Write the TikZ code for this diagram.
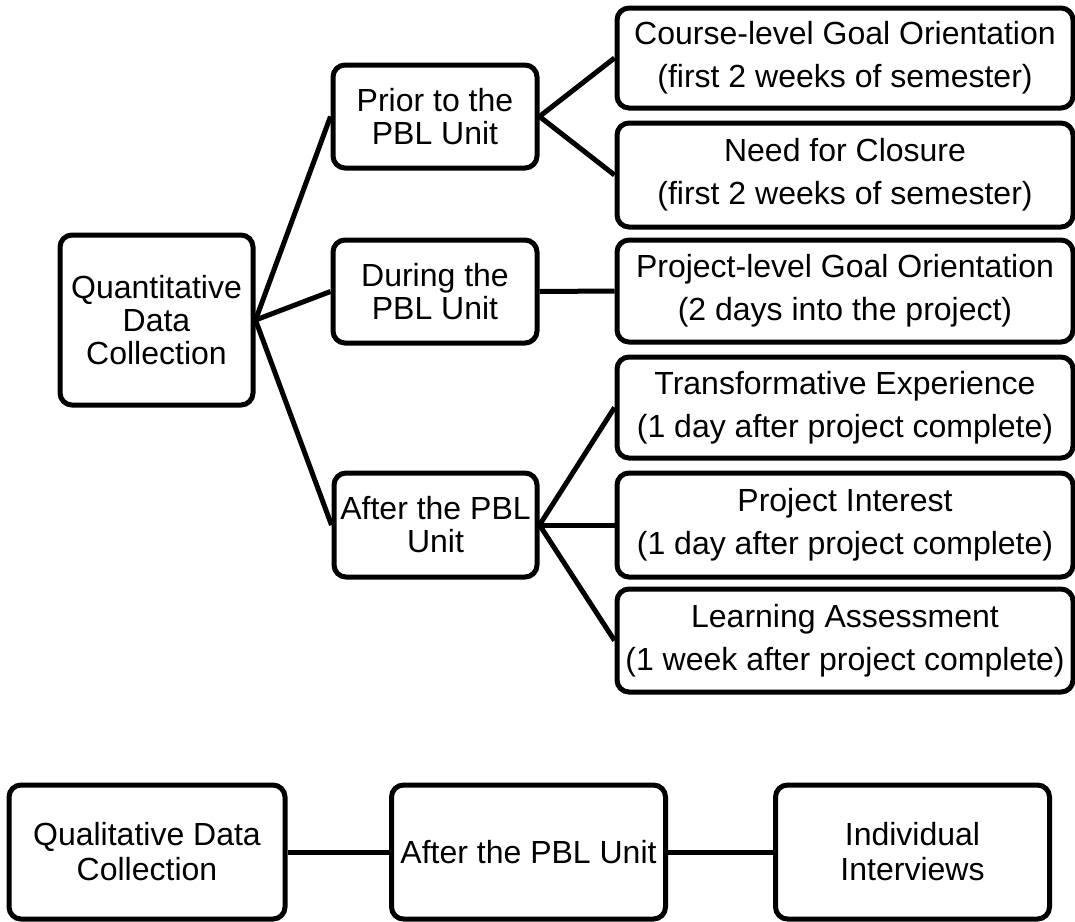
\documentclass[tikz,border=0pt]{standalone}
\usepackage{fontspec}
\setmainfont{Liberation Sans}
\begin{document}
\begin{tikzpicture}[x=1pt,y=-1pt,
  box/.style={draw=black, line width=5pt, rounded corners=12pt, fill=white, inner sep=0pt, align=center},
  leftbox/.style={box, font=\fontsize{32}{33}\selectfont},
  rightbox/.style={box, minimum width=456pt, font=\fontsize{32}{43}\selectfont},
  lowbox/.style={box, minimum width=274pt, minimum height=134pt, font=\fontsize{32}{35}\selectfont},
  link/.style={draw=black, line width=5pt}]
\useasboundingbox (0,0) rectangle (1075,921);
% left tree
\node[leftbox, minimum width=193pt, minimum height=170pt] (quant) at (156.5,320) {Quantitative\\Data\\Collection};
\node[leftbox, minimum width=204pt, minimum height=103pt] (prior) at (435,116.5) {Prior to the\\PBL Unit};
\node[leftbox, minimum width=204pt, minimum height=103pt] (during) at (435,291.5) {During the\\PBL Unit};
\node[leftbox, minimum width=203pt, minimum height=104pt] (after) at (435.5,525) {After the PBL\\Unit};
\node[rightbox, minimum height=100pt] (course) at (845,58) {Course-level Goal Orientation\\(first 2 weeks of semester)};
\node[rightbox, minimum height=104pt] (need) at (845,175) {Need for Closure\\(first 2 weeks of semester)};
\node[rightbox, minimum height=102pt] (projlevel) at (845,291) {Project-level Goal Orientation\\(2 days into the project)};
\node[rightbox, minimum height=101pt] (transf) at (845,407.5) {Transformative Experience\\(1 day after project complete)};
\node[rightbox, minimum height=104pt] (interest) at (845,525) {Project Interest\\(1 day after project complete)};
\node[rightbox, minimum height=103pt] (learning) at (845,640.5) {Learning Assessment\\(1 week after project complete)};
\draw[link] (quant.east) -- (prior.west);
\draw[link] (quant.east) -- (during.west);
\draw[link] (quant.east) -- (after.west);
\draw[link] (prior.east) -- (course.west);
\draw[link] (prior.east) -- (need.west);
\draw[link] (during.east) -- (projlevel.west);
\draw[link] (after.east) -- (transf.west);
\draw[link] (after.east) -- (interest.west);
\draw[link] (after.east) -- (learning.west);
% bottom row
\node[lowbox, minimum width=276pt] (qual) at (147,852) {Qualitative Data\\Collection};
\node[lowbox] (after2) at (528.5,852) {After the PBL Unit};
\node[lowbox] (indiv) at (912.5,852) {Individual\\Interviews};
\draw[link] (qual.east) -- (after2.west);
\draw[link] (after2.east) -- (indiv.west);
\end{tikzpicture}
\end{document}
